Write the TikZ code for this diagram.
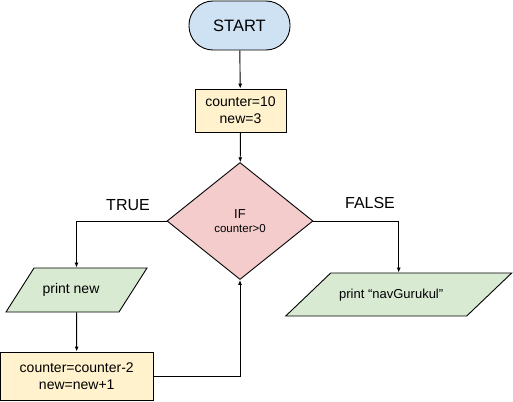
\documentclass[tikz,border=0pt]{standalone}
\usepackage{fontspec}
\setmainfont{Liberation Sans}
\usetikzlibrary{shapes.geometric,arrows.meta}

\definecolor{startblue}{HTML}{CFE2F3}
\definecolor{procyellow}{HTML}{FFF2CC}
\definecolor{condpink}{HTML}{F4CCCC}
\definecolor{iogreen}{HTML}{D9EAD3}

\begin{document}
\begin{tikzpicture}[x=1pt,y=-1pt,
    box/.style={draw=black, line width=0.9pt, align=center, inner sep=0pt,
        font=\fontsize{14}{17}\selectfont},
    terminal/.style={box, fill=startblue, rounded corners=24pt,
        minimum width=101pt, minimum height=49pt},
    process/.style={box, fill=procyellow},
    decision/.style={box, diamond, fill=condpink,
        minimum width=146pt, minimum height=117pt},
    io/.style={box, trapezium, trapezium stretches body, fill=iogreen,
        text height=10pt, text depth=3pt},
    branchtext/.style={font=\fontsize{16}{19}\selectfont},
    flow/.style={draw=black, line width=0.9pt, -{Latex[length=5pt,width=4pt]}}]
    \useasboundingbox (0,0) rectangle (513,401);

    % Start and setup
    \node[terminal] (start) at (239.5,25.5) {\fontsize{16.5}{19}\selectfont START};
    \node[process, minimum width=91pt, minimum height=43pt] (init) at (240.5,110.5)
        {counter=10\\new=3};

    % Condition
    \node[decision] (cond) at (240,221)
        {\fontsize{13}{15}\selectfont IF\\[-3pt]\fontsize{11.5}{13}\selectfont counter>0};
    \node[branchtext] (yes) at (128,205) {TRUE};
    \node[branchtext] (no) at (370,203) {FALSE};

    % TRUE branch (loop body)
    \node[io, trapezium left angle=57.5, trapezium right angle=122.5,
        inner ysep=15.5pt, minimum width=141pt] (prnew) at (76.5,290) {print new\kern11pt};
    \node[process, minimum width=152.5pt, minimum height=48pt] (step) at (76.75,376)
        {counter=counter-2\\new=new+1};

    % FALSE branch
    \node[io, trapezium left angle=43.7, trapezium right angle=136.3,
        inner ysep=15pt, minimum width=226pt, font=\fontsize{13}{16}\selectfont]
        (prnav) at (398.7,294.5) {print “navGurukul”\kern15pt};

    % Connectors
    \draw[flow] (start) -- (init);
    \draw[flow] (init) -- (cond);
    \draw[flow] (cond.west) -| (prnew.north);
    \draw[flow] (prnew) -- (step);
    \draw[flow] (step.east) -| (cond.south);
    \draw[flow] (cond.east) -| (prnav.north);
\end{tikzpicture}
\end{document}
